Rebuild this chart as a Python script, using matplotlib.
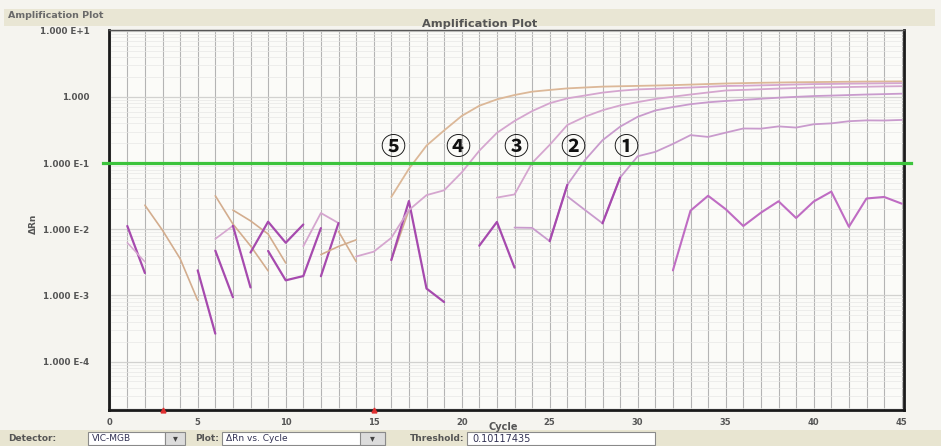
import numpy as np
import matplotlib
matplotlib.use('Agg')
import matplotlib.pyplot as plt
from matplotlib.ticker import MultipleLocator, LogLocator, NullFormatter, FixedLocator, FixedFormatter
from matplotlib.patches import Rectangle

# ---------------- data ----------------
threshold = 0.10117435
x_ticks = [0, 5, 10, 15, 20, 25, 30, 35, 40, 45]
y_ticks = [1e-4, 1e-3, 1e-2, 1e-1, 1.0, 10.0]
y_tick_labels = ['1.000 E-4', '1.000 E-3', '1.000 E-2', '1.000 E-1', '1.000', '1.000 E+1']
baseline_marks = [3, 15]

curve_names = ['⑤', '④', '③', '②', '①']
curve_label_cycles = [16.1, 19.8, 23.1, 26.3, 29.3]

amp5_start = 16
amp5 = [0.0308, 0.0820, 0.184, 0.312, 0.517, 0.737, 0.920, 1.071, 1.204, 1.277,
        1.349, 1.391, 1.434, 1.453, 1.472, 1.49, 1.511, 1.54, 1.57, 1.60,
        1.62, 1.64, 1.655, 1.67, 1.68, 1.69, 1.70, 1.71, 1.715, 1.721]
amp4_start = 14
amp4 = [0.00387, 0.00458, 0.00742, 0.0195, 0.0328, 0.0388, 0.0723, 0.154, 0.287, 0.434,
        0.612, 0.805, 0.953, 1.053, 1.164, 1.243, 1.303, 1.33, 1.362, 1.39,
        1.43, 1.467, 1.48, 1.50, 1.52, 1.545, 1.567, 1.575, 1.59, 1.60, 1.61, 1.617]
amp3_start = 22
amp3 = [0.0301, 0.0336, 0.1005, 0.189, 0.377, 0.503, 0.630, 0.746, 0.836, 0.933,
        1.01, 1.09, 1.17, 1.254, 1.28, 1.31, 1.34, 1.365, 1.388, 1.40,
        1.415, 1.43, 1.445, 1.457]
amp2_start = 23
amp2 = [0.0106, 0.0105, 0.0066, 0.0469, 0.111, 0.222, 0.356, 0.502, 0.626, 0.704,
        0.778, 0.831, 0.871, 0.905, 0.94, 0.975, 1.005, 1.033, 1.05, 1.07,
        1.09, 1.105, 1.122]
amp1_start = 26
amp1 = [0.0314, 0.0196, 0.0123, 0.0605, 0.127, 0.148, 0.195, 0.265, 0.249, 0.289,
        0.334, 0.332, 0.359, 0.345, 0.387, 0.399, 0.430, 0.443, 0.441, 0.450]

# baseline noise pieces (start cycle, values)
nz_a = (1, [0.0112, 0.00218])
nz_b = (1, [0.00626, 0.00322])
nz_c = (2, [0.0231, 0.00965, 0.00360, 0.000841])
nz_d = (5, [0.00239, 0.000264])
nz_e = (6, [0.0321, 0.0120, 0.00561, 0.00235])
nz_f = (6, [0.00715, 0.0113])
nz_g = (7, [0.0113, 0.00132])
nz_h = (6, [0.00476, 0.000936])
nz_i = (7, [0.0195, 0.0134, 0.00848, 0.00309])
nz_j = (8, [0.00445, 0.0130, 0.00625, 0.0118])
nz_k = (9, [0.00470, 0.00169, 0.00196, 0.0104])
nz_l = (11, [0.00554, 0.0176, 0.0124])
nz_m = (12, [0.00195, 0.0124])
nz_n = (12, [0.00414, 0.00550, 0.00691])
nz_o = (13, [0.00926, 0.00325])
nz_p = (16, [0.00342, 0.0195])
nz_q = (16, [0.00342, 0.0267, 0.00127, 0.000794])
nz_r = (21, [0.00564, 0.0129, 0.00263])
nz_s = (32, [0.00239, 0.0191, 0.0321, 0.0201, 0.0112, 0.0178, 0.0265, 0.0148, 0.0263,
             0.0371, 0.0109, 0.0292, 0.0308, 0.0244])

# ---------------- styles ----------------
MAG = '#a64aae'
MAG2 = '#bf6cc3'
PINK = '#d5a6cf'
TAN = '#d3ad8e'
TAN5 = '#dcb898'
LILAC = '#c99bcd'

W, H = 941, 446
fig = plt.figure(figsize=(W / 100, H / 100), dpi=100)
fig.patch.set_facecolor('#f5f4ef')

# header band
fig.patches.append(Rectangle((4 / W, 1 - 26 / H), (W - 10) / W, 17 / H, transform=fig.transFigure,
                             facecolor='#e9e6d4', edgecolor='none', zorder=0))
fig.text(8 / W, 1 - 16 / H, 'Amplification Plot', fontsize=6.8, fontweight='bold', color='#6a6a6a',
         ha='left', va='center')

# bottom bar
fig.patches.append(Rectangle((0, 0), 1, 16 / H, transform=fig.transFigure,
                             facecolor='#e8e5d1', edgecolor='none', zorder=0))

def box(x0, x1, fc='white'):
    fig.patches.append(Rectangle((x0 / W, 1 - 445 / H), (x1 - x0) / W, 13 / H, transform=fig.transFigure,
                                 facecolor=fc, edgecolor='#8a8a8a', lw=0.8, zorder=1))

box(88, 165)
box(165, 185, '#dcdcdc')
box(222, 385)
box(360, 385, '#dcdcdc')
box(467, 655)
ty = 1 - 438.5 / H
tk = dict(fontsize=6.5, fontweight='bold', color='#555555', va='center', ha='left')
fig.text(8 / W, ty, 'Detector:', **tk)
fig.text(92 / W, ty, 'VIC-MGB', fontsize=6.5, color='#333355', va='center', ha='left')
fig.text(175 / W, ty, '▾', fontsize=7, color='#444444', va='center', ha='center')
fig.text(195 / W, ty, 'Plot:', **tk)
fig.text(226 / W, ty, 'ΔRn vs. Cycle', fontsize=6.5, color='#333355', va='center', ha='left')
fig.text(372 / W, ty, '▾', fontsize=7, color='#444444', va='center', ha='center')
fig.text(410 / W, ty, 'Threshold:', **tk)
fig.text(472 / W, ty, f'{threshold:.8f}', fontsize=7, color='#333355', va='center', ha='left')

# axes
ax = fig.add_axes([109 / W, 1 - 410 / H, (904 - 109) / W, (410 - 30) / H])
ax.set_facecolor('#fbfbf8')
ax.set_yscale('log')
ax.set_xlim(-0.04, 45.13)
ax.set_ylim(1.85e-5, 10.3)

ax.xaxis.set_major_locator(FixedLocator(x_ticks))
ax.xaxis.set_minor_locator(MultipleLocator(1))
ax.yaxis.set_major_locator(FixedLocator(y_ticks))
ax.yaxis.set_major_formatter(FixedFormatter(y_tick_labels))
ax.yaxis.set_minor_locator(LogLocator(base=10, subs=np.arange(2, 10)))
ax.yaxis.set_minor_formatter(NullFormatter())
ax.tick_params(which='both', length=0)
ax.tick_params(axis='x', pad=6, labelsize=6, labelcolor='#555555')
ax.tick_params(axis='y', pad=14, labelsize=6.3, labelcolor='#555555')
for lab in ax.get_xticklabels() + ax.get_yticklabels():
    lab.set_fontweight('bold')

ax.grid(True, which='both', axis='x', color='#b4b4b4', lw=0.8)
ax.grid(True, which='minor', axis='y', color='#e8e8e6', lw=0.5)
ax.grid(True, which='major', axis='y', color='#d2d2d0', lw=0.9)
ax.set_axisbelow(True)

for side in ['left', 'bottom', 'right']:
    ax.spines[side].set_linewidth(2.0)
    ax.spines[side].set_color('#1a1a1a')
ax.spines['top'].set_linewidth(1.0)
ax.spines['top'].set_color('#555555')

def draw(start, vals, color, lw=1.3, z=3):
    cyc = np.arange(start, start + len(vals))
    ax.plot(cyc, vals, color=color, lw=lw, solid_capstyle='round', solid_joinstyle='round', zorder=z)

# noise
noise_styles = [(nz_a, MAG, 1.6), (nz_b, PINK, 1.1), (nz_c, TAN, 1.2), (nz_d, MAG, 1.6),
                (nz_e, TAN, 1.2), (nz_f, PINK, 1.2), (nz_g, MAG, 1.6), (nz_h, MAG, 1.6),
                (nz_i, TAN, 1.2), (nz_j, MAG, 1.6), (nz_k, MAG, 1.6), (nz_l, PINK, 1.3),
                (nz_m, MAG, 1.6), (nz_n, TAN, 1.2), (nz_o, TAN, 1.2), (nz_p, TAN, 1.2),
                (nz_q, MAG, 1.6), (nz_r, MAG, 1.6), (nz_s, MAG2, 1.5)]
for (st, vals), col, lw in noise_styles:
    draw(st, vals, col, lw)

# amplification curves
draw(amp5_start, amp5, TAN5, 1.3)
draw(amp4_start, amp4, PINK, 1.3)
draw(amp3_start, amp3, PINK, 1.3)
draw(amp2_start, amp2, LILAC, 1.3)
draw(amp1_start, amp1, LILAC, 1.3)
# darker pre-threshold pieces
draw(amp2_start + 2, amp2[2:4], MAG, 1.6, 4)
draw(amp1_start + 2, amp1[2:4], MAG, 1.6, 4)

# threshold line
ax.plot([-0.008, 1.009], [threshold, threshold], transform=ax.get_yaxis_transform(),
        color='#3cc43c', lw=2.3, clip_on=False, zorder=5)

# baseline markers
ax.plot(baseline_marks, [1.85e-5] * len(baseline_marks), linestyle='none', marker='^',
        markersize=3.5, color='#e03030', clip_on=False, zorder=6)

# circled labels
lab_y = 0.17
for name, cx in zip(curve_names, curve_label_cycles):
    ax.text(cx, lab_y, name, fontsize=18, fontweight='bold', ha='center', va='center', color='#111111',
            family=['Noto Sans CJK SC', 'DejaVu Sans'], zorder=7)

# titles
fig.text(480 / W, 1 - 24 / H, 'Amplification Plot', fontsize=8.2, fontweight='bold',
         color='#555555', ha='center', va='center')
fig.text(503 / W, 1 - 427 / H, 'Cycle', fontsize=7, fontweight='bold', color='#555555',
         ha='center', va='center')
fig.text(33 / W, 1 - 224 / H, 'ΔRn', fontsize=6.5, fontweight='bold', color='#555555',
         rotation=90, ha='center', va='center')

fig.savefig('out.png', dpi=100, facecolor=fig.get_facecolor())
